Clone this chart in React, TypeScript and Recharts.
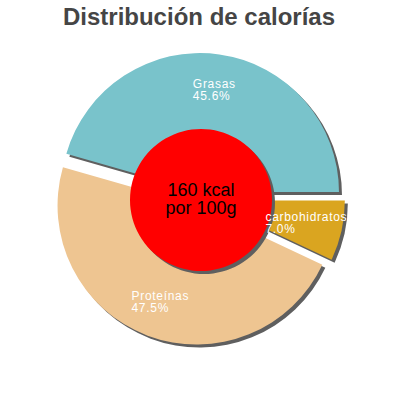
import { Cell, Pie, PieChart } from "recharts";

const names = ["Grasas", "Proteínas", "carbohidratos"];
const shares = [45.6, 47.5, 7.0];
const colors = ["#79c3cb", "#eec591", "#daa520"];
const energy = [{ name: "kcal", value: 160 }];

const slices = names.map((name, i) => ({ name, value: shares[i] }));

const FONT = "'Liberation Sans', Arial, Helvetica, sans-serif";
const CX = 199;
const CY = 199;
const RADIUS = 139;
const EXPLODE = 7;
const RAD = Math.PI / 180;

// bisector angle of every slice, in recharts degrees (0 = 3 o'clock, ccw)
const total = shares.reduce((a, b) => a + b, 0);
const midAngles = shares.map((v, i) => {
  const before = shares.slice(0, i).reduce((a, b) => a + b, 0);
  return ((before + v / 2) / total) * 360;
});

let ctx: CanvasRenderingContext2D | null = null;
function textWidth(text: string, font: string) {
  if (!ctx) ctx = document.createElement("canvas").getContext("2d");
  if (!ctx) return text.length * 7;
  ctx.font = font;
  return ctx.measureText(text).width;
}

function renderLabel(props: any) {
  const { midAngle, index } = props;
  const r = 110;
  const x = CX + r * Math.cos(midAngle * RAD);
  const y = CY - r * Math.sin(midAngle * RAD);
  const w = textWidth(names[index], `12px ${FONT}`) + names[index].length * 0.7;
  const left = x - w / 2;
  return (
    <text
      key={`lbl-${index}`}
      x={left}
      y={y - 2}
      fill="#fff"
      fontSize={12}
      fontFamily={FONT}
      letterSpacing={0.7}
      textAnchor="start"
    >
      <tspan x={left} y={y - 2}>{names[index]}</tspan>
      <tspan x={left} y={y + 10}>{`${shares[index].toFixed(1)}%`}</tspan>
    </text>
  );
}

export default function App() {
  return (
    <div className="chart" style={{ position: "absolute", left: 0, top: 0, width: 400, height: 400, background: "#fff" }}>
      <style>{`.chart .recharts-sector { filter: drop-shadow(3px 3px 0 #5f5f5f); }`}</style>
      <div
        style={{
          position: "absolute",
          left: 0,
          top: 3,
          width: 398,
          textAlign: "center",
          fontFamily: FONT,
          fontWeight: "bold",
          fontSize: 24,
          color: "#454545",
          lineHeight: "28px",
        }}
      >
        Distribución de calorías
      </div>
      <PieChart width={400} height={400} margin={{ top: 0, right: 0, bottom: 0, left: 0 }}>
        {slices.map((_, k) => (
          <Pie
            key={`slice-${k}`}
            data={slices}
            dataKey="value"
            nameKey="name"
            cx={CX + EXPLODE * Math.cos(midAngles[k] * RAD)}
            cy={CY - EXPLODE * Math.sin(midAngles[k] * RAD)}
            outerRadius={RADIUS}
            startAngle={0}
            endAngle={360}
            stroke="none"
            isAnimationActive={false}
          >
            {slices.map((s, i) => (
              <Cell key={s.name} fill={i === k ? colors[i] : "none"} />
            ))}
          </Pie>
        ))}
        <Pie
          data={energy}
          dataKey="value"
          cx={201}
          cy={200}
          outerRadius={71}
          stroke="none"
          fill="#ff0000"
          isAnimationActive={false}
        />
        <Pie
          data={slices}
          dataKey="value"
          nameKey="name"
          cx={CX}
          cy={CY}
          outerRadius={RADIUS}
          startAngle={0}
          endAngle={360}
          stroke="none"
          fill="none"
          label={renderLabel}
          labelLine={false}
          isAnimationActive={false}
        >
          {slices.map((s) => (
            <Cell key={s.name} fill="none" />
          ))}
        </Pie>
      </PieChart>
      <div
        style={{
          position: "absolute",
          left: 151,
          top: 181,
          width: 100,
          textAlign: "center",
          fontFamily: FONT,
          fontSize: 18,
          lineHeight: "18px",
          color: "#000",
        }}
      >
        160 kcal
        <br />
        por 100g
      </div>
    </div>
  );
}
